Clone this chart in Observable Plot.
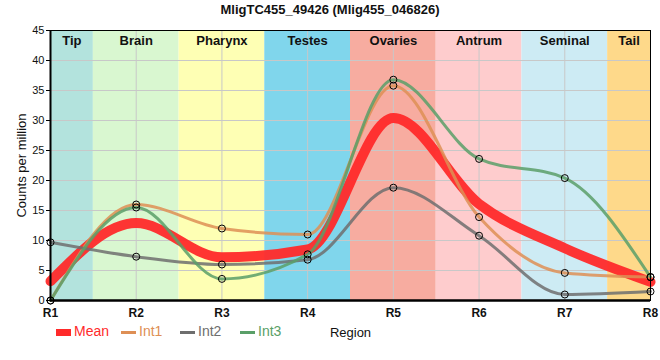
<!DOCTYPE html>
<html><head><meta charset="utf-8">
<script src="https://cdn.jsdelivr.net/npm/d3@7"></script>
<script src="https://cdn.jsdelivr.net/npm/@observablehq/plot@0.6"></script>
<style>
body{margin:0;background:#fff;font-family:"Liberation Sans",Arial,sans-serif;}
#wrap{position:relative;width:660px;height:360px;overflow:hidden;}
#title{height:20px;line-height:20px;text-align:center;font-weight:bold;font-size:13px;color:#111;}
#legend{position:absolute;left:0;top:322px;width:660px;height:18px;font-size:14px;}
.item{position:absolute;top:0;height:18px;line-height:18px;white-space:nowrap;}
.sw{display:inline-block;width:15px;vertical-align:middle;margin-right:3px;}
</style></head><body>
<div id="wrap">
<div id="title">MligTC455_49426 (Mlig455_046826)</div>
<div id="chart"></div>
<div id="legend"></div>
</div>
<script>
const regions = ["R1","R2","R3","R4","R5","R6","R7","R8"];
const tissues = ["Tip","Brain","Pharynx","Testes","Ovaries","Antrum","Seminal","Tail"];
const tissueColors = ["#b3e3dd","#d9f7d0","#feffb4","#80d6ec","#f7aca0","#fecccd","#cdebf4","#fed98a"];
const meanVals = [3.2,12.9,7.2,8.5,30.4,16.1,8.7,3.1];
const int1 = [0,16.0,12.0,11.0,35.8,13.9,4.6,3.9];
const int2 = [9.7,7.3,6.0,6.8,18.8,10.8,1.0,1.5];
const int3 = [0,15.5,3.6,7.7,36.8,23.6,20.4,3.9];
const yTicks = [0,5,10,15,20,25,30,35,40,45];
const seriesNames = ["Mean","Int1","Int2","Int3"];
const seriesColors = ["#ff2a2a","#de8f55","#6e6e6e","#5a9f68"];

const n = regions.length;
const bands = tissues.map((t,i)=>({t, c:tissueColors[i], x1:Math.max(1,i+0.5), x2:Math.min(n,i+1.5)}));
const mk = arr => arr.map((v,i)=>({x:i+1, y:v}));
const ints = [int1,int2,int3];
const dots = ints.flatMap(a=>mk(a));

const chart = Plot.plot({
  width:660, height:320,
  marginTop:10, marginBottom:40, marginLeft:50, marginRight:10,
  style:{fontFamily:"Liberation Sans, Arial, sans-serif", fontSize:"11px", color:"#111", background:"transparent"},
  x:{domain:[1,n]},
  y:{domain:[0,45]},
  marks:[
    Plot.rect(bands,{x1:"x1",x2:"x2",y1:0,y2:45,fill:"c"}),
    Plot.gridY(yTicks,{stroke:"#c8c8c8",strokeOpacity:1}),
    Plot.gridX(d3.range(1,n+1),{stroke:"#c8c8c8",strokeOpacity:1}),
    Plot.line(mk(meanVals),{x:"x",y:"y",curve:"monotone-x",stroke:seriesColors[0],strokeWidth:10,strokeOpacity:0.95}),
    ...ints.map((a,k)=>Plot.line(mk(a),{x:"x",y:"y",curve:"monotone-x",stroke:seriesColors[k+1],strokeWidth:3,strokeOpacity:0.85})),
    Plot.dot(dots,{x:"x",y:"y",r:3.5,stroke:"#000",strokeWidth:1,fill:"none"}),
    Plot.text(bands,{x:d=>(d.x1+d.x2)/2,y:45,text:"t",dy:10,fontWeight:"bold",fontSize:13,fill:"#111"}),
    Plot.frame({stroke:"#000",strokeWidth:1}),
    Plot.ruleY([0],{stroke:"#000",strokeWidth:2.5}),
    Plot.ruleX([1],{stroke:"#000",strokeWidth:2}),
    Plot.axisY(yTicks,{tickSize:4,tickPadding:2,fontSize:11,label:null,stroke:"#000"}),
    Plot.axisY([],{label:"Counts per million",labelAnchor:"center",labelOffset:34,fontSize:13,labelArrow:"none"}),
    Plot.axisX(d3.range(1,n+1),{tickSize:0,tickPadding:8,tickFormat:i=>regions[i-1],fontWeight:"bold",fontSize:12,label:null}),
    Plot.axisX([],{label:"Region",labelAnchor:"center",labelOffset:36,fontSize:13,labelArrow:"none"})
  ]
});
document.getElementById("chart").appendChild(chart);

const lefts = [56,121,180,240];
const leg = document.getElementById("legend");
seriesNames.forEach((s,i)=>{
  const d = document.createElement("div");
  d.className="item"; d.style.left=lefts[i]+"px"; d.style.color=seriesColors[i];
  const sw = document.createElement("span");
  sw.className="sw"; sw.style.background=seriesColors[i]; sw.style.height=(i===0?7:3)+"px";
  d.appendChild(sw); d.appendChild(document.createTextNode(s));
  leg.appendChild(d);
});
</script>
</body></html>
